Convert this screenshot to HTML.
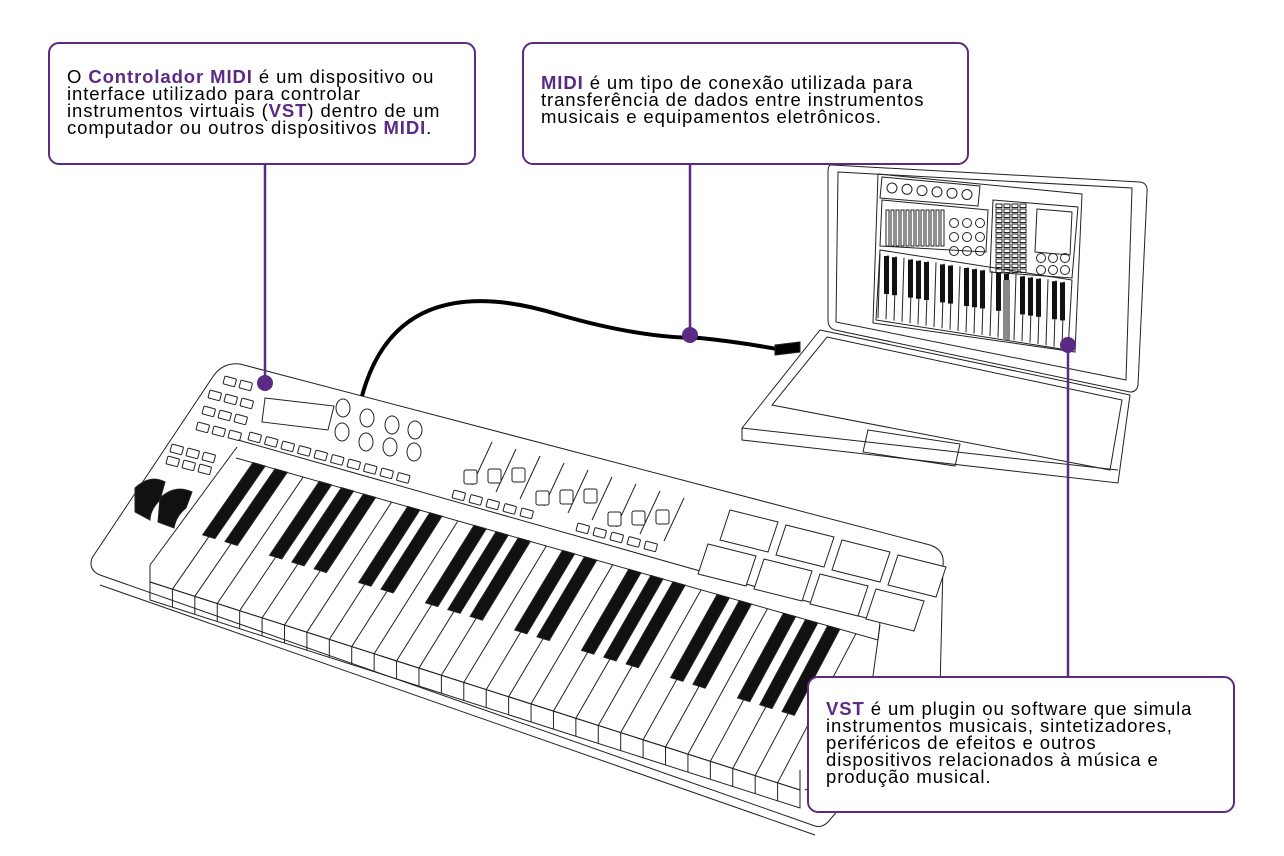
<!DOCTYPE html>
<html><head><meta charset="utf-8"><style>
html,body{margin:0;padding:0;background:#fff;width:1284px;height:856px;overflow:hidden;position:relative;font-family:"Liberation Sans",sans-serif}
.box{position:absolute;border:2.5px solid #5a2a85;border-radius:11px;background:#fff;box-sizing:border-box;font-size:18.5px;line-height:17px;letter-spacing:0.9px;color:#000;padding:0 0 0 17px;white-space:nowrap}
.box b{color:#5a2a85}
svg{position:absolute;left:0;top:0}
</style></head><body>
<svg id="s" width="1284" height="856" viewBox="0 0 1284 856" fill="none" stroke="#222" stroke-width="1">
<path d="M832,165 L1140,182 Q1148,183 1147,192 L1138,385 Q1137,392 1130,392 L835,330 Q828,328 828,320 L828,172 Q828,164 832,165Z" fill="#fff"/>
<path d="M838,172 L1132,188 L1126,380 L836,322Z"/>
<path d="M878,174 L1082,194 L1075,352 L873,323Z"/>
<path d="M820,330 L1130,395 L1118,483 L742,440 L742,428Z" fill="#fff"/>
<path d="M827,337 L1122,400 L1110,470 L772,405Z"/>
<path d="M742,428 L1118,470"/>
<path d="M868,430 L960,444 L955,466 L863,452Z"/>
<path d="M882,177 L980,186 L978,206 L880,198Z"/>
<path d="M882,200 L988,210 L986,252 L880,246Z"/>
<path d="M993,200 L1078,207 L1072,278 L990,272Z"/>
<path d="M880,250 L1072,280 L1068,350 L876,320Z"/>
<g id="lk"></g>
<path d="M240,364 L930,545 Q945,550 943,565 L940,690 L828,822 Q822,828 815,826 L100,575 Q88,570 92,558 L212,378 Q222,362 240,364Z" fill="#fff"/>
<path d="M100,585 L815,835"/>
<path d="M238,440 L880,622 L878,640 L236,458"/>
<path d="M150,565 L237,447"/>
<path d="M150,565 L150,582 L800,790 L800,770"/>
<path d="M880,625 L860,770 L805,790"/>
<path d="M265,398 L334,406 L328,430 L262,422Z"/>
<g id="kb"></g>
<path d="M135,488 Q150,474 165,482 L160,500 Q150,510 150,520 L135,512Z" fill="#111"/>
<path d="M160,498 Q175,484 192,492 L186,508 Q176,516 174,528 L158,522Z" fill="#111"/>
<path d="M362,396 Q380,330 430,310 Q480,290 560,315 Q640,338 700,338 Q740,342 782,350" stroke="#000" stroke-width="4"/>
<path d="M775,345 L800,342 L800,352 L775,355Z" fill="#000"/>
<g stroke="#5a2a85" stroke-width="2.5" fill="#5a2a85">
<line x1="265" y1="164" x2="265" y2="383"/><circle cx="265" cy="383" r="8" stroke="none"/>
<line x1="690" y1="164" x2="690" y2="335"/><circle cx="690" cy="335" r="8" stroke="none"/>
<line x1="1068" y1="345" x2="1068" y2="677"/><circle cx="1068" cy="345" r="8" stroke="none"/>
</g>
</svg>
<div class="box" style="left:48px;top:42px;width:428px;height:123px;padding-top:24px">O <b>Controlador MIDI</b> é um dispositivo ou<br>interface utilizado para controlar<br>instrumentos virtuais (<b>VST</b>) dentro de um<br>computador ou outros dispositivos <b>MIDI</b>.</div>
<div class="box" style="left:522px;top:42px;width:447px;height:123px;padding-top:30px"><b>MIDI</b> é um tipo de conexão utilizada para<br>transferência de dados entre instrumentos<br>musicais e equipamentos eletrônicos.</div>
<div class="box" style="left:807px;top:676px;width:428px;height:137px;padding-top:22px"><b>VST</b> é um plugin ou software que simula<br>instrumentos musicais, sintetizadores,<br>periféricos de efeitos e outros<br>dispositivos relacionados à música e<br>produção musical.</div>
<script>
const NS="http://www.w3.org/2000/svg";
function el(p,t,a){const e=document.createElementNS(NS,t);for(const k in a)e.setAttribute(k,a[k]);p.appendChild(e);return e;}
const kb=document.getElementById('kb');
const A=[237,458],B=[878,640],C=[150,582],D=[800,790];
const n=29;
function lerp(p,q,t){return [p[0]+(q[0]-p[0])*t,p[1]+(q[1]-p[1])*t];}
for(let i=1;i<n;i++){const t=i/n;const a=lerp(A,B,t),c=lerp(C,D,t);el(kb,'line',{x1:a[0],y1:a[1],x2:c[0],y2:c[1]});el(kb,'line',{x1:c[0],y1:c[1],x2:c[0],y2:c[1]+18});}
el(kb,'path',{d:`M${C[0]},${C[1]} L${D[0]},${D[1]} L${D[0]},${D[1]+18} L${C[0]},${C[1]+18}Z`});
const pat=[1,1,0,1,1,1,0];
for(let i=0;i<n-1;i++){if(!pat[i%7])continue;const t=(i+1)/n,w=0.55/n;
const a1=lerp(A,B,t-w/2),a2=lerp(A,B,t+w/2);const c1=lerp(C,D,t-w/2),c2=lerp(C,D,t+w/2);
const b1=lerp(a1,c1,0.58),b2=lerp(a2,c2,0.58);
el(kb,'path',{d:`M${a1[0]},${a1[1]} L${a2[0]},${a2[1]} L${b2[0]},${b2[1]} L${b1[0]},${b1[1]}Z`,fill:'#111'});}
function btn(x,y){el(kb,'rect',{x:x,y:y,width:12,height:8,rx:1,transform:`rotate(15 ${x} ${y})`});}
[[225,376],[241,380],[210,390],[226,394],[242,398],[204,406],[220,410],[236,414],[198,422],[214,426],[230,430],[172,444],[188,448],[204,452],[168,456],[184,460],[200,464]].forEach(p=>btn(p[0],p[1]));
for(let i=0;i<10;i++)btn(250+i*16.5,432+i*4.5);
for(let i=0;i<5;i++)btn(454+i*17,490+i*4.5);
for(let i=0;i<5;i++)btn(578+i*17,523+i*4.5);
[[343,408],[367,418],[392,425],[415,430],[342,432],[366,442],[390,447],[414,452]].forEach(p=>{el(kb,'ellipse',{cx:p[0],cy:p[1],rx:7,ry:9});});
for(let i=0;i<9;i++){const x=470+i*24,y=470+i*7;el(kb,'line',{x1:x+2,y1:y+15,x2:x+22,y2:y-28});el(kb,'rect',{x:x-6,y:y+(i%3)*-8,width:13,height:14,rx:2,fill:'#fff'});}
for(let r=0;r<2;r++)for(let c=0;c<4;c++){const x=730+c*56-r*22,y=510+c*15+r*34;el(kb,'path',{d:`M${x},${y} l48,12 l-10,30 l-48,-12Z`,fill:'#fff'});}
const lk=document.getElementById('lk');
for(let i=0;i<6;i++)el(lk,'circle',{cx:892+i*15,cy:188+i*1.3,r:5});
for(let r=0;r<3;r++)for(let c=0;c<3;c++)el(lk,'circle',{cx:954+c*13,cy:223+r*14,r:4.5});
for(let i=0;i<12;i++){el(lk,'rect',{x:886+i*5,y:210,width:3,height:36});}
for(let c=0;c<4;c++)for(let r=0;r<14;r++)el(lk,'rect',{x:996+c*8,y:204+r*5,width:6,height:3.5});
el(lk,'path',{d:'M1037,209 L1072,212 L1070,255 L1035,252Z'});
for(let r=0;r<2;r++)for(let c=0;c<3;c++)el(lk,'circle',{cx:1041+c*12,cy:258+r*12,r:4.5});
for(let i=0;i<24;i++){const x=880+i*8;el(lk,'line',{x1:x,y1:254+i*1.2,x2:x-2,y2:318+i*1.3});}
const bp=[1,1,0,1,1,1,0];
for(let i=0;i<23;i++){if(!bp[i%7])continue;const x=884+i*8;el(lk,'rect',{x:x,y:256+i*1.2,width:5,height:38,fill:'#111',stroke:'none'});}
el(lk,'rect',{x:1003,y:280,width:7,height:60,fill:'#888',stroke:'none'});
</script>
</body></html>
